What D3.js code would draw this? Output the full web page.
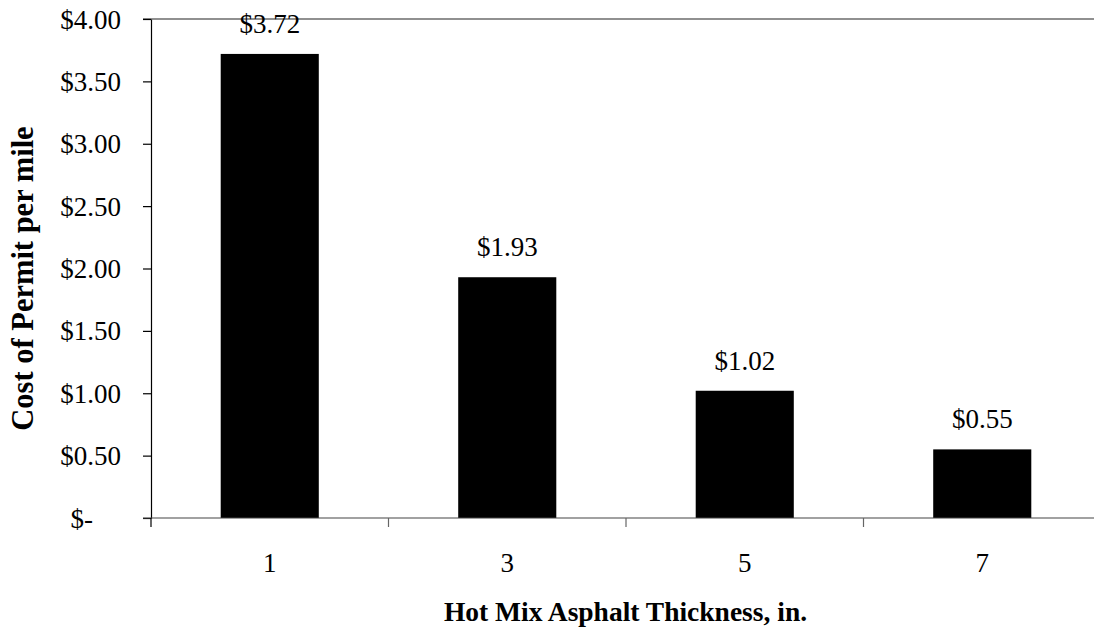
<!DOCTYPE html>
<html>
<head>
<meta charset="utf-8">
<script src="https://cdn.jsdelivr.net/npm/d3@7"></script>
<style>
  html, body { margin: 0; padding: 0; background: #fff; }
  svg { display: block; }
  text { font-family: "Liberation Serif", "Times New Roman", serif; fill: #000; }
</style>
</head>
<body>
<svg id="chart" width="1094" height="631"></svg>
<script>
// Permit cost per mile by hot mix asphalt thickness
const thickness = ["1", "3", "5", "7"];
const costPerMile = [3.72, 1.93, 1.02, 0.55];
const yTicks = [0, 0.5, 1, 1.5, 2, 2.5, 3, 3.5, 4];
const xTitle = "Hot Mix Asphalt Thickness, in.";
const yTitle = "Cost of Permit per mile";

const svg = d3.select("#chart");
const plotLeft = 151, plotRight = 1101, plotTop = 19, plotBottom = 518;

const x = d3.scaleBand().domain(thickness).range([plotLeft, plotRight]).padding(0);
const y = d3.scaleLinear().domain([0, 4]).range([plotBottom, plotTop]);
const barW = x.bandwidth() * 0.413;

const money = v => v === 0 ? "$-" : "$" + v.toFixed(2);

// Bars
svg.append("g").selectAll("rect")
  .data(costPerMile)
  .join("rect")
  .attr("x", (d, i) => x(thickness[i]) + x.bandwidth() / 2 - barW / 2)
  .attr("y", d => y(d))
  .attr("width", barW)
  .attr("height", d => y(0) - y(d))
  .attr("fill", "#000");

// Top border of the plot area
svg.append("line")
  .attr("x1", plotLeft - 8).attr("x2", plotRight)
  .attr("y1", plotTop).attr("y2", plotTop)
  .attr("stroke", "#222").attr("stroke-width", 1.2);

// Y axis
const yAxis = svg.append("g").attr("transform", `translate(${plotLeft},0)`)
  .call(d3.axisLeft(y).tickValues(yTicks).tickSize(8).tickSizeOuter(0).tickFormat(""));
yAxis.select(".domain").attr("stroke", "#000").attr("stroke-width", 1.2);
yAxis.selectAll(".tick line").attr("stroke", "#000").attr("stroke-width", 1.2);

svg.append("g").selectAll("text")
  .data(yTicks)
  .join("text")
  .attr("x", d => d === 0 ? 93 : 121)
  .attr("y", d => y(d) + 9.5)
  .attr("text-anchor", "end")
  .attr("font-size", 27)
  .text(money);

// X axis: line with ticks at category boundaries
svg.append("line")
  .attr("x1", plotLeft - 8).attr("x2", plotRight)
  .attr("y1", plotBottom).attr("y2", plotBottom)
  .attr("stroke", "#444").attr("stroke-width", 1.2);
svg.append("g").selectAll("line")
  .data(thickness)
  .join("line")
  .attr("x1", d => x(d)).attr("x2", d => x(d))
  .attr("y1", plotBottom).attr("y2", plotBottom + 9)
  .attr("stroke", (d, i) => i === 0 ? "#000" : "#666")
  .attr("stroke-width", 1.2);

svg.append("g").selectAll("text")
  .data(thickness)
  .join("text")
  .attr("x", d => x(d) + x.bandwidth() / 2)
  .attr("y", 572)
  .attr("text-anchor", "middle")
  .attr("font-size", 27)
  .text(d => d);

// Value labels above bars
svg.append("g").selectAll("text")
  .data(costPerMile)
  .join("text")
  .attr("x", (d, i) => x(thickness[i]) + x.bandwidth() / 2)
  .attr("y", d => y(d) - 21)
  .attr("text-anchor", "middle")
  .attr("font-size", 27)
  .text(d => money(d));

// Axis titles
svg.append("text")
  .attr("x", 625.5).attr("y", 621)
  .attr("text-anchor", "middle")
  .attr("font-size", 27.5).attr("font-weight", "bold")
  .text(xTitle);

svg.append("text")
  .attr("transform", "translate(33,278.5) rotate(-90)")
  .attr("text-anchor", "middle")
  .attr("font-size", 30.5).attr("font-weight", "bold")
  .text(yTitle);
</script>
</body>
</html>
